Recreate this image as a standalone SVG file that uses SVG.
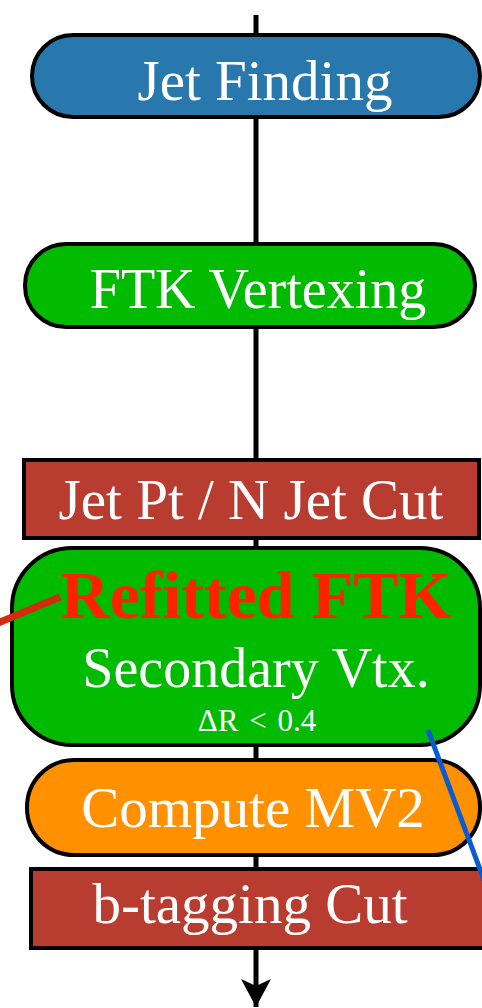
<svg xmlns="http://www.w3.org/2000/svg" width="482" height="1008" viewBox="0 0 482 1008">
<defs>
<style>
.box{stroke:#000;stroke-width:4}
.t{font-family:"Liberation Serif","Times New Roman",serif;fill:#fff;text-anchor:middle}
.conn{stroke:#000;stroke-width:5;fill:none}
</style>
<marker id="arr" markerUnits="userSpaceOnUse" markerWidth="34" markerHeight="34" viewBox="0 0 34 34" refX="30" refY="17" orient="auto">
<path d="M2,2 L30,17 L2,32 L9,17 Z" fill="#000"/>
</marker>
</defs>
<rect width="482" height="1008" fill="#fff"/>
<g id="connectors">
<line class="conn" x1="256" y1="15" x2="256" y2="1007" marker-end="url(#arr)"/>
</g>
<g id="jet-finding">
<rect class="box" x="32" y="35" width="448" height="82" rx="41" fill="#2877ad"/>
<text class="t" x="265" y="100" font-size="57">Jet Finding</text>
</g>
<g id="ftk-vertexing">
<rect class="box" x="25" y="244" width="450" height="83" rx="41" fill="#00bb00"/>
<text class="t" x="258" y="308" font-size="56">FTK Vertexing</text>
</g>
<g id="jet-cut">
<rect class="box" x="24" y="460" width="455" height="78" fill="#b83c30"/>
<text class="t" x="251" y="519" font-size="57">Jet Pt / N Jet Cut</text>
</g>
<g id="secondary-vtx">
<rect class="box" x="12" y="548" width="468" height="197" rx="60" fill="#00bb00"/>
<text class="t" x="256" y="618" font-size="68" font-weight="bold" style="fill:#ff2200">Refitted FTK</text>
<text class="t" x="256" y="687" font-size="56">Secondary Vtx.</text>
<text class="t" x="257" y="731" font-size="31" word-spacing="3">ΔR &lt; 0.4</text>
</g>
<g id="compute-mv2">
<rect class="box" x="27" y="760" width="453" height="95" rx="47" fill="#ff9000"/>
<text class="t" x="253" y="827" font-size="57">Compute MV2</text>
</g>
<g id="btag-cut">
<rect class="box" x="31" y="869" width="460" height="79" fill="#b83c30"/>
<text class="t" x="250" y="923" font-size="57">b-tagging Cut</text>
</g>
<g id="annotations">
<line x1="-2" y1="623" x2="60" y2="597" stroke="#d42a10" stroke-width="7"/>
<line x1="428" y1="730" x2="484" y2="880" stroke="#0a5ad0" stroke-width="5"/>
</g>
</svg>
